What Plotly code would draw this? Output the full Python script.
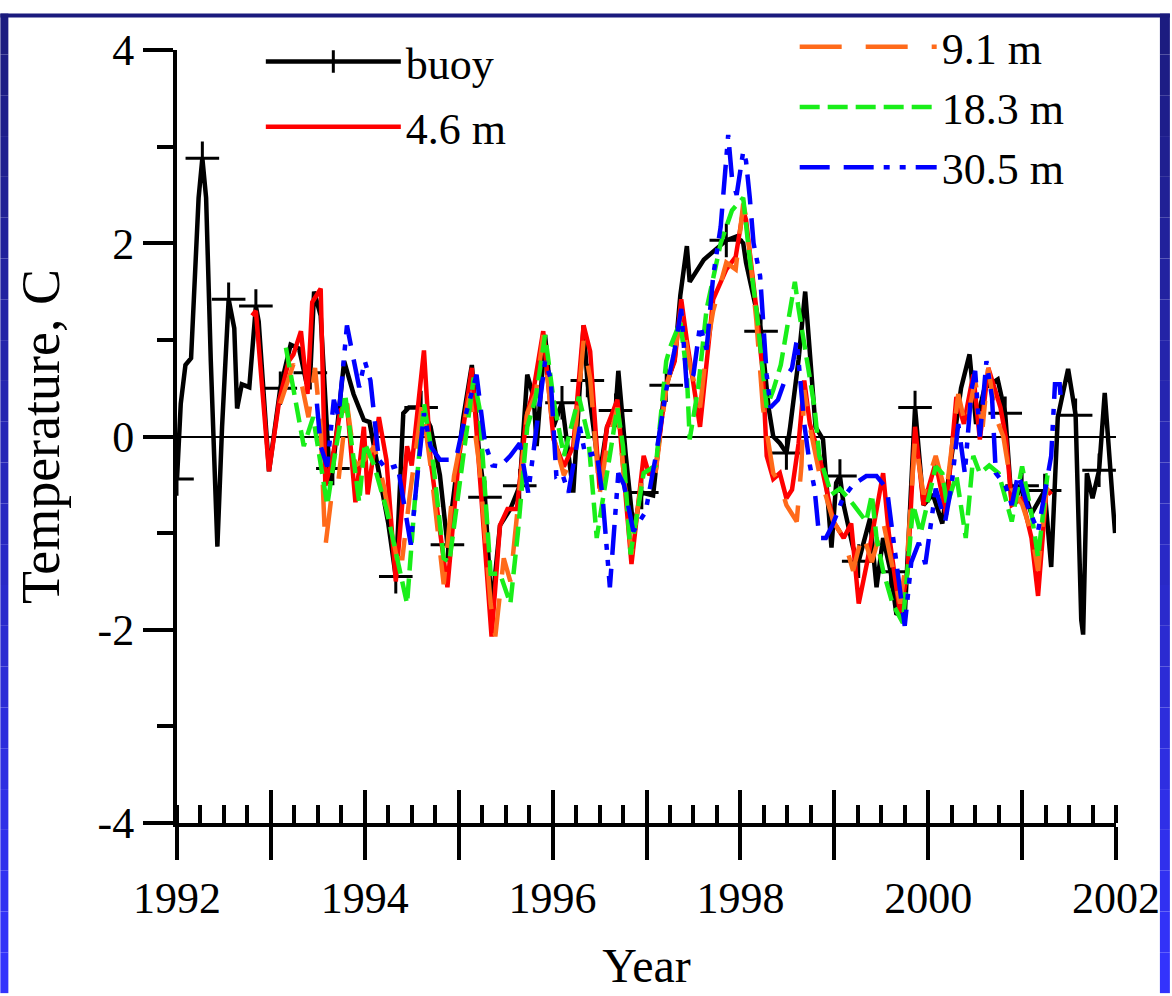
import plotly.graph_objects as go

# ---------------- data ----------------
buoy_t = [1992.00, 1992.04, 1992.09, 1992.15, 1992.23, 1992.27, 1992.31, 1992.36, 1992.43, 1992.48,
          1992.55, 1992.61, 1992.64, 1992.69, 1992.77, 1992.84, 1992.87, 1992.98, 1993.10, 1993.21,
          1993.30, 1993.38, 1993.42, 1993.46, 1993.53, 1993.63, 1993.66, 1993.78, 1993.88, 1993.99,
          1994.05, 1994.15, 1994.25, 1994.33, 1994.41, 1994.47, 1994.60, 1994.70, 1994.80, 1994.88,
          1994.95, 1995.05, 1995.14, 1995.22, 1995.28, 1995.35, 1995.44, 1995.55, 1995.65, 1995.73,
          1995.80, 1995.83, 1995.92, 1996.01, 1996.10, 1996.22, 1996.33, 1996.37, 1996.50, 1996.58,
          1996.67, 1996.70, 1996.78, 1996.86, 1996.95, 1997.07, 1997.18, 1997.21, 1997.30, 1997.36,
          1997.43, 1997.46, 1997.61, 1997.85, 1997.96, 1998.03, 1998.06, 1998.15, 1998.22, 1998.30,
          1998.35, 1998.42, 1998.49, 1998.53, 1998.62, 1998.69, 1998.74, 1998.80, 1998.88, 1998.97,
          1999.02, 1999.06, 1999.10, 1999.20, 1999.26, 1999.38, 1999.45, 1999.52, 1999.60, 1999.66,
          1999.75, 1999.86, 1999.95, 2000.05, 2000.15, 2000.25, 2000.35, 2000.44, 2000.51, 2000.60,
          2000.74, 2000.82, 2000.89, 2001.00, 2001.10, 2001.24, 2001.31, 2001.38, 2001.49, 2001.57,
          2001.63, 2001.65, 2001.69, 2001.75, 2001.82, 2001.88, 2001.99]
buoy_v = [-0.44, 0.34, 0.74, 0.81, 2.47, 2.88, 2.47, 0.78, -1.14, 0.10,
          1.42, 1.12, 0.29, 0.54, 0.51, 1.35, 1.19, -0.36, 0.50, 0.95,
          0.91, 0.55, 0.66, 1.50, 1.25, -0.49, -0.33, 0.78, 0.44, 0.17,
          0.15, -0.40, -0.90, -1.45, 0.24, 0.30, 0.30, 0.10, -0.40, -1.12,
          -0.60, 0.20, 0.74, -0.20, -0.63, -1.80, -0.92, -0.75, -0.51, 0.64,
          0.40, -0.10, 1.05, 0.10, 0.35, -0.58, 1.15, 0.58, -0.40, 0.10,
          0.27, 0.68, -0.20, -0.95, -0.58, -0.61, 0.38, 0.53, 0.80, 1.46,
          1.97, 1.60, 1.83, 2.03, 2.07, 2.00, 1.80, 1.40, 1.09, 0.30,
          0.00, -0.07, -0.17, 0.10, 0.80, 1.50, 0.92, 0.10, -0.03, -1.15,
          -0.48, -0.41, -0.71, -1.15, -1.29, -0.85, -1.56, -1.05, -1.40, -1.83,
          -1.86, 0.30, -0.71, -0.60, -0.90, -0.20, 0.50, 0.85, 0.13, 0.50,
          0.59, 0.24, -0.71, -0.51, -0.80, -0.56, -1.35, 0.20, 0.70, 0.22,
          -1.90, -2.05, -0.38, -0.64, -0.35, 0.45, -1.00]
buoy_mark_t = [1992.00, 1992.27, 1992.55, 1992.84, 1993.10, 1993.42, 1993.66, 1994.33, 1994.60, 1994.88,
               1995.28, 1995.65, 1996.10, 1996.37, 1996.67, 1996.95, 1997.21, 1997.85, 1998.22, 1998.49,
               1999.06, 1999.26, 1999.60, 1999.86, 2000.82, 2001.00, 2001.24, 2001.57, 2001.82]

t_46 = [1992.80, 1992.84, 1992.98, 1993.09, 1993.19, 1993.24, 1993.32, 1993.39, 1993.44, 1993.53,
        1993.58, 1993.66, 1993.74, 1993.81, 1993.90, 1993.99, 1994.03, 1994.15, 1994.23, 1994.33,
        1994.45, 1994.50, 1994.63, 1994.70, 1994.88, 1995.00, 1995.14, 1995.22, 1995.35, 1995.44,
        1995.52, 1995.62, 1995.72, 1995.80, 1995.90, 1996.01, 1996.12, 1996.22, 1996.33, 1996.40,
        1996.50, 1996.58, 1996.69, 1996.84, 1996.97, 1997.03, 1997.10, 1997.21, 1997.30, 1997.37,
        1997.43, 1997.57, 1997.64, 1997.71, 1997.85, 1997.95, 1998.03, 1998.06, 1998.17, 1998.24,
        1998.28, 1998.35, 1998.42, 1998.49, 1998.55, 1998.62, 1998.68, 1998.74, 1998.84, 1998.99,
        1999.10, 1999.18, 1999.26, 1999.35, 1999.52, 1999.58, 1999.70, 1999.78, 1999.86, 1999.95,
        2000.08, 2000.19, 2000.30, 2000.38, 2000.48, 2000.55, 2000.64, 2000.77, 2000.83, 2000.89,
        2001.00, 2001.10, 2001.17, 2001.26, 2001.31]
v_46 = [1.25, 1.30, -0.36, 0.38, 0.78, 0.85, 1.09, 0.44, 1.39, 1.53,
        -0.51, -0.20, 0.27, 0.34, -0.68, 0.10, -0.60, 0.20, -0.24, -1.50,
        -0.10, -0.30, 0.89, -0.24, -1.56, -0.24, 0.71, -0.30, -2.07, -0.92,
        -0.75, -0.75, 0.20, 0.50, 1.09, -0.03, -0.31, -0.10, 1.15, 0.88,
        -0.54, 0.10, 0.38, -1.32, -0.20, -0.40, -0.31, 0.54, 0.78, 1.42,
        0.99, 0.10, 0.81, 1.42, 1.73, 1.86, 2.34, 2.24, 1.32, 0.64,
        -0.20, -0.44, -0.38, -0.64, -0.55, -0.07, 0.58, 0.13, -0.20, -0.88,
        -1.05, -0.90, -1.73, -1.30, -0.38, -1.00, -1.83, -1.40, 0.10, -0.71,
        -0.27, -0.81, 0.41, 0.13, 0.64, -0.03, 0.71, 0.30, -0.03, -0.71,
        -0.64, -1.05, -1.65, -0.54, -0.60]

t_91 = [1993.10, 1993.24, 1993.32, 1993.40, 1993.47, 1993.53, 1993.56, 1993.58, 1993.65, 1993.72,
        1993.79, 1993.81, 1993.90, 1994.00, 1994.10, 1994.20, 1994.34, 1994.40, 1994.48, 1994.61,
        1994.70, 1994.84, 1994.95, 1995.12, 1995.22, 1995.34, 1995.39, 1995.48, 1995.55, 1995.62,
        1995.73, 1995.82, 1995.90, 1996.01, 1996.12, 1996.22, 1996.33, 1996.40, 1996.50, 1996.58,
        1996.69, 1996.84, 1996.97, 1997.10, 1997.21, 1997.30, 1997.37, 1997.45, 1997.57, 1997.64,
        1997.71, 1997.85, 1997.95, 1998.03, 1998.06, 1998.17, 1998.24, 1998.35, 1998.42, 1998.49,
        1998.60, 1998.65, 1998.68, 1998.74, 1998.84, 1998.99, 1999.10, 1999.20, 1999.30, 1999.40,
        1999.52, 1999.70, 1999.78, 1999.86, 1999.95, 2000.08, 2000.19, 2000.32, 2000.40, 2000.50,
        2000.58, 2000.64, 2000.72, 2000.80, 2000.89, 2001.00, 2001.10, 2001.17, 2001.26, 2001.31]
v_91 = [0.34, 0.75, 0.58, 0.20, 0.71, 0.10, -0.68, -1.14, -0.58, -0.45,
        0.17, 0.34, -0.30, -0.24, -0.10, -0.50, -1.26, -1.26, -0.60, 0.34,
        -0.30, -1.53, -0.41, 0.44, -0.30, -1.73, -2.07, -1.26, -1.50, -0.80,
        0.24, 0.44, 1.05, 0.00, -0.40, -0.20, 0.99, 0.60, -0.60, -0.10,
        0.30, -1.22, -0.30, -0.35, 0.50, 0.85, 1.30, 0.80, 0.30, 0.90,
        1.30, 1.80, 1.73, 2.41, 2.27, 1.20, 0.30, -0.38, -0.48, -0.71,
        -0.88, -0.30, 0.48, 0.10, -0.38, -0.88, -1.05, -1.39, -1.00, -1.30,
        -0.88, -1.73, -1.20, -0.03, -0.60, -0.20, -0.60, 0.44, 0.10, 0.58,
        0.10, 0.71, 0.20, 0.00, -0.54, -0.70, -1.00, -1.39, -0.54, -0.60]

t_183 = [1993.16, 1993.22, 1993.28, 1993.35, 1993.45, 1993.52, 1993.56, 1993.60, 1993.68, 1993.79,
         1993.85, 1993.94, 1994.00, 1994.10, 1994.23, 1994.40, 1994.45, 1994.53, 1994.63, 1994.72,
         1994.84, 1994.90, 1995.00, 1995.16, 1995.22, 1995.34, 1995.44, 1995.55, 1995.63, 1995.73,
         1995.82, 1995.92, 1996.01, 1996.12, 1996.28, 1996.38, 1996.47, 1996.55, 1996.69, 1996.75,
         1996.83, 1996.97, 1997.10, 1997.21, 1997.25, 1997.36, 1997.43, 1997.46, 1997.55, 1997.64,
         1997.79, 1997.91, 1998.03, 1998.10, 1998.17, 1998.28, 1998.35, 1998.43, 1998.58, 1998.62,
         1998.72, 1998.79, 1998.84, 1998.97, 1999.06, 1999.20, 1999.34, 1999.40, 1999.45, 1999.52,
         1999.62, 1999.73, 1999.84, 1999.92, 2000.08, 2000.15, 2000.20, 2000.30, 2000.40, 2000.48,
         2000.55, 2000.65, 2000.75, 2000.89, 2001.00, 2001.10, 2001.17, 2001.27, 2001.30]
v_183 = [0.92, 0.60, 0.30, -0.10, 0.20, -0.20, -0.44, -0.71, -0.20, 0.44,
         0.00, -0.68, -0.07, -0.30, -0.75, -1.53, -1.73, -0.70, 0.34, -0.20,
         -1.26, -1.30, -0.58, 0.61, 0.30, -1.42, -1.42, -1.73, -1.00, 0.10,
         0.40, 1.05, 0.38, -0.20, 0.41, 0.00, -1.05, -0.54, 0.30, -0.10,
         -1.22, -0.38, -0.30, 0.78, 0.92, 1.19, 0.64, -0.03, 0.50, 1.32,
         2.00, 2.34, 2.47, 1.83, 1.32, 0.30, 0.48, 0.74, 1.60, 1.32,
         0.71, 0.30, -0.20, -0.60, -0.54, -0.70, -0.88, -0.60, -1.05, -1.39,
         -1.73, -1.93, -0.71, -1.00, -0.31, -0.38, -0.71, -0.40, -1.05, -0.20,
         -0.38, -0.30, -0.38, -0.88, -0.31, -0.80, -1.25, -0.40, -0.40]

t_305 = [1993.49, 1993.53, 1993.60, 1993.67, 1993.72, 1993.81, 1993.87, 1993.94, 1994.00, 1994.06,
         1994.15, 1994.23, 1994.35, 1994.45, 1994.49, 1994.55, 1994.63, 1994.70, 1994.80, 1994.97,
         1995.06, 1995.19, 1995.28, 1995.36, 1995.44, 1995.55, 1995.65, 1995.74, 1995.83, 1995.92,
         1995.98, 1996.04, 1996.10, 1996.17, 1996.29, 1996.35, 1996.47, 1996.53, 1996.61, 1996.70,
         1996.76, 1996.86, 1996.99, 1997.10, 1997.21, 1997.30, 1997.37, 1997.43, 1997.50, 1997.57,
         1997.64, 1997.71, 1997.79, 1997.85, 1997.87, 1997.91, 1997.96, 1998.03, 1998.06, 1998.10,
         1998.14, 1998.21, 1998.28, 1998.32, 1998.40, 1998.48, 1998.55, 1998.60, 1998.68, 1998.74,
         1998.79, 1998.84, 1998.91, 1998.98, 1999.09, 1999.20, 1999.34, 1999.45, 1999.56, 1999.62,
         1999.70, 1999.75, 1999.82, 1999.90, 1999.97, 2000.08, 2000.18, 2000.25, 2000.32, 2000.39,
         2000.46, 2000.50, 2000.55, 2000.62, 2000.68, 2000.72, 2000.82, 2000.89, 2000.96, 2001.05,
         2001.17, 2001.26, 2001.31, 2001.35, 2001.40, 2001.42]
v_305 = [0.34, -0.10, -0.31, 0.38, 0.20, 1.15, 0.85, 0.51, 0.78, 0.58,
         -0.24, -0.34, -0.30, -0.92, -1.12, -0.50, 0.24, -0.10, -0.24, -0.24,
         0.17, 0.64, -0.07, -0.30, -0.31, -0.20, -0.07, -0.58, 0.10, 0.78,
         0.60, -0.41, -0.38, -0.58, 0.10, -0.20, -0.17, -0.60, -1.56, -0.38,
         -0.50, -0.98, -0.78, -0.20, 0.48, 0.90, 1.32, 0.50, 0.64, 1.15,
         0.90, 1.66, 2.17, 2.92, 3.12, 2.68, 2.50, 2.95, 2.85, 2.47,
         2.00, 1.66, 0.64, 0.30, 0.38, 0.60, 0.71, 0.99, 0.13, -0.30,
         -0.54, -1.05, -1.05, -0.92, -0.64, -0.50, -0.41, -0.41, -0.54, -1.00,
         -1.56, -1.96, -1.30, -1.10, -1.32, -0.54, -0.88, -0.50, 0.13, -0.38,
         0.48, 0.68, 0.00, 0.78, 0.40, -0.38, -0.50, -0.71, -0.38, -0.70,
         -0.98, -0.50, -0.20, 0.54, 0.54, 0.30]

year_ticks = list(range(1992, 2003))
year_labels = [str(y) if y % 2 == 0 else "" for y in year_ticks]
temp_ticks = [-4, -2, 0, 2, 4]
temp_labels = ["-4", "-2", "0", "2", "4"]

# ---------------- layout geometry ----------------
W, H = 1172, 996
L, R, T, B = 177, 54, 37, 173
PW, PH = W - L - R, H - T - B


def pxp(x):
    return (x - L) / PW


def pyp(y):
    return (H - B - y) / PH


FONT = "Liberation Serif"
LW = 4.5
fig = go.Figure()

sel = [buoy_t.index(t) for t in buoy_mark_t]
fig.add_trace(go.Scatter(
    x=buoy_t, y=buoy_v, name="buoy", mode="lines+markers", legendgroup="g1",
    line=dict(color="black", width=LW),
    marker=dict(symbol="cross-thin", size=24, color="black", line=dict(width=3, color="black")),
    selectedpoints=sel,
    selected=dict(marker=dict(opacity=1)),
    unselected=dict(marker=dict(opacity=0)),
    legend="legend"))
fig.add_trace(go.Scatter(x=t_46, y=v_46, name="4.6 m", mode="lines", legendgroup="g2",
                         line=dict(color="#ff0000", width=LW), legend="legend"))
fig.add_trace(go.Scatter(x=t_91, y=v_91, name="9.1 m", mode="lines", legendgroup="g3",
                         line=dict(color="#ff6a1a", width=LW, dash="42px,24px"), legend="legend2"))
fig.add_trace(go.Scatter(x=t_183, y=v_183, name="18.3 m", mode="lines", legendgroup="g4",
                         line=dict(color="#19ee19", width=LW, dash="20px,8px"), legend="legend2"))
fig.add_trace(go.Scatter(x=t_305, y=v_305, name="30.5 m", mode="lines", xaxis="x2", legendgroup="g5",
                         line=dict(color="#0000ff", width=LW,
                                   dash="30px,14px,30px,10px,6px,10px,6px,10px"),
                         legend="legend2"))

axis_font = dict(family=FONT, size=44, color="black")

fig.update_layout(
    width=W, height=H,
    margin=dict(l=L, r=R, t=T, b=B, pad=0),
    paper_bgcolor="white", plot_bgcolor="white",
    font=dict(family=FONT, size=44, color="black"),
    xaxis=dict(range=[1992, 2002], tickmode="array", tickvals=year_ticks, ticktext=year_labels,
               ticks="outside", ticklen=33, tickwidth=4, tickcolor="black",
               showline=True, linewidth=4, linecolor="black", showgrid=False, zeroline=False,
               tickfont=axis_font,
               minor=dict(tickmode="linear", tick0=1992, dtick=0.25, ticks="inside",
                          ticklen=18, tickwidth=4, tickcolor="black", showgrid=False),
               title=dict(text="Year", font=dict(family=FONT, size=48, color="black"), standoff=28)),
    xaxis2=dict(range=[1992, 2002], overlaying="x", anchor="y", side="bottom",
                tickmode="array", tickvals=year_ticks, ticks="inside", ticklen=33, tickwidth=4,
                tickcolor="black", showticklabels=False, showline=False, showgrid=False,
                zeroline=False),
    yaxis=dict(range=[-4, 4], tickmode="array", tickvals=temp_ticks, ticktext=temp_labels,
               ticks="outside", ticklen=30, tickwidth=4, tickcolor="black",
               showline=True, linewidth=4, linecolor="black", showgrid=False,
               zeroline=True, zerolinewidth=2, zerolinecolor="black",
               tickfont=axis_font,
               minor=dict(tickmode="linear", tick0=-4, dtick=1, ticks="outside",
                          ticklen=16, tickwidth=4, tickcolor="black", showgrid=False),
               title=dict(text="Temperature, C", font=dict(family=FONT, size=54, color="black"),
                          standoff=22)),
    legend=dict(x=pxp(261), y=pyp(13), xanchor="left", yanchor="top",
                bgcolor="rgba(0,0,0,0)", borderwidth=0, itemwidth=135,
                traceorder="grouped", tracegroupgap=5,
                font=dict(family=FONT, size=44, color="black")),
    legend2=dict(x=pxp(796), y=pyp(-2), xanchor="left", yanchor="top",
                 bgcolor="rgba(0,0,0,0)", borderwidth=0, itemwidth=137,
                 traceorder="grouped", tracegroupgap=0,
                 font=dict(family=FONT, size=44, color="black")),
    showlegend=True,
)

# blue slide frame (paper-referenced decoration)
shapes = []
top_c = (27, 27, 125)
bot_c = (52, 52, 255)
N = 24
for i in range(N):
    f0 = i / N
    f1 = (i + 1) / N
    c = tuple(int(round(top_c[k] + (bot_c[k] - top_c[k]) * (f0 + 0.5 / N))) for k in range(3))
    col = "rgb(%d,%d,%d)" % c
    y0 = pyp(f0 * H)
    y1 = pyp(f1 * H)
    shapes.append(dict(type="rect", xref="paper", yref="paper", x0=pxp(0), x1=pxp(8),
                       y0=y1, y1=y0, fillcolor=col, line=dict(width=0), layer="above"))
    shapes.append(dict(type="rect", xref="paper", yref="paper", x0=pxp(1162), x1=pxp(W),
                       y0=y1, y1=y0, fillcolor=col, line=dict(width=0), layer="above"))
shapes.append(dict(type="rect", xref="paper", yref="paper", x0=pxp(0), x1=pxp(W),
                   y0=pyp(4), y1=pyp(0), fillcolor="rgb(27,27,125)", line=dict(width=0),
                   layer="above"))
fig.update_layout(shapes=shapes)

fig.write_html("out.html", config=dict(displayModeBar=False),
               post_script="document.body.style.margin='0';")
